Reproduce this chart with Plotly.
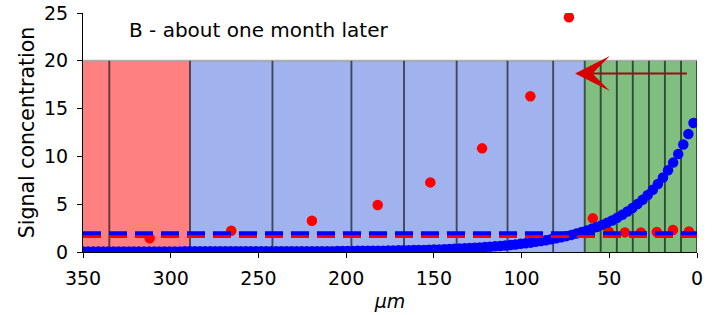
import plotly.graph_objects as go

# ---------------- data ----------------
# blue series: simulated signal profile (x in µm, y concentration)
blue_x = [2.0, 4.9, 7.8, 10.7, 13.6, 16.5, 19.4, 22.3, 25.2, 28.1, 31.0, 33.9, 36.8, 39.7, 42.6,
          45.5, 48.4, 51.3, 54.2, 57.1, 60.0, 62.9, 65.8, 68.7, 71.6, 74.5, 77.4, 80.3, 83.2, 86.1,
          89.0, 91.9, 94.8, 97.7, 100.6, 103.5, 106.4, 109.3, 112.2, 115.1, 118.0, 120.9, 123.8,
          126.7, 129.6, 132.5, 135.4, 138.3, 141.2, 144.1, 147.0, 149.9, 152.8, 155.7, 158.6, 161.5,
          164.4, 167.3, 170.2, 173.1, 176.0, 178.9, 181.8, 184.7, 187.6, 190.5, 193.4, 196.3, 199.2,
          202.1, 205.0, 207.9, 210.8, 213.7, 216.6, 219.5, 222.4, 225.3, 228.2, 231.1, 234.0, 236.9,
          239.8, 242.7, 245.6, 248.5, 251.4, 254.3, 257.2, 260.1, 263.0, 265.9, 268.8, 271.7, 274.6,
          277.5, 280.4, 283.3, 286.2, 289.1, 292.0, 294.9, 297.8, 300.7, 303.6, 306.5, 309.4, 312.3,
          315.2, 318.1, 321.0, 323.9, 326.8, 329.7, 332.6, 335.5, 338.4, 341.3, 344.2, 347.1, 350.0]
blue_y = [13.5, 12.35, 11.25, 10.25, 9.35, 8.55, 7.8, 7.12, 6.52, 5.97, 5.47, 5.02, 4.6, 4.23, 3.89,
          3.58, 3.3, 3.05, 2.82, 2.61, 2.42, 2.24, 2.08, 1.93, 1.79, 1.66, 1.54, 1.43, 1.33, 1.23,
          1.14, 1.06, 0.98, 0.91, 0.85, 0.79, 0.73, 0.68, 0.63, 0.59, 0.55, 0.51, 0.47,
          0.44, 0.41, 0.38, 0.36, 0.33, 0.31, 0.29, 0.27, 0.25, 0.24, 0.22, 0.21, 0.2,
          0.19, 0.18, 0.17, 0.16, 0.15, 0.14, 0.14, 0.13, 0.13, 0.12, 0.12, 0.11, 0.11,
          0.1, 0.1, 0.09, 0.09, 0.09, 0.09, 0.09, 0.09, 0.09, 0.09, 0.09, 0.09, 0.08,
          0.08, 0.08, 0.08, 0.08, 0.08, 0.08, 0.08, 0.08, 0.08, 0.07, 0.07, 0.07, 0.07,
          0.07, 0.07, 0.07, 0.07, 0.07, 0.07, 0.06, 0.06, 0.06, 0.06, 0.06, 0.06, 0.06,
          0.06, 0.06, 0.06, 0.05, 0.05, 0.05, 0.05, 0.05, 0.05, 0.05, 0.05, 0.05, 0.05]

# red series: measured signal per cell
red_x = [312.0, 265.5, 219.5, 182.0, 152.0, 122.5, 95.0, 73.0, 59.4, 50.3, 41.1, 32.0, 22.9, 13.7, 4.6]
red_y = [1.43, 2.23, 3.27, 4.91, 7.28, 10.84, 16.3, 24.55, 3.52, 2.12, 2.05, 2.05, 2.1, 2.3, 2.15]

# threshold levels (dashed)
blue_threshold = 1.95
red_threshold = 1.67

# cell boundaries (µm) and regions
cell_bounds = [350, 335, 289, 242, 197, 167, 137, 108, 82, 64, 54.9, 45.7, 36.6, 27.4, 18.3, 9.1, 0]
region_x0 = [350, 289, 64]
region_x1 = [289, 64, 0]
region_colors = ["rgb(255,128,128)", "rgb(160,179,238)", "rgb(128,191,128)"]
region_top = 20

# arrow (direction of movement)
arrow_tail = (4.9, 18.67)
arrow_tip = (69.5, 18.67)

title_text = "B - about one month later"
x_ticks = [350, 300, 250, 200, 150, 100, 50, 0]
y_ticks = [0, 5, 10, 15, 20, 25]

FONT = "DejaVu Sans"
FS = 19

fig = go.Figure()

# regions
for x0, x1, c in zip(region_x0, region_x1, region_colors):
    fig.add_shape(type="rect", xref="x", yref="y", x0=x0, x1=x1, y0=0, y1=region_top,
                  fillcolor=c, line=dict(width=0), layer="below")
# top edge
fig.add_shape(type="line", xref="x", yref="y", x0=cell_bounds[0], x1=cell_bounds[-1],
              y0=region_top, y1=region_top, line=dict(color="rgba(160,160,160,0.8)", width=2),
              layer="below")
# cell boundaries
for b in cell_bounds[1:]:
    fig.add_shape(type="line", xref="x", yref="y", x0=b, x1=b, y0=0, y1=region_top,
                  line=dict(color="rgba(0,0,0,0.6)", width=1.9), layer="below")

# red measured dots
fig.add_trace(go.Scatter(x=red_x, y=red_y, mode="markers",
                         marker=dict(color="red", size=10.5, line=dict(width=0)),
                         showlegend=False, hoverinfo="skip"))
# blue profile
fig.add_trace(go.Scatter(x=blue_x, y=blue_y, mode="markers",
                         marker=dict(color="blue", size=10.5, line=dict(width=0)),
                         showlegend=False, hoverinfo="skip"))
# dashed thresholds
fig.add_trace(go.Scatter(x=[350, 0], y=[red_threshold, red_threshold], mode="lines",
                         line=dict(color="red", width=4, dash="18px,8px"),
                         showlegend=False, hoverinfo="skip"))
fig.add_trace(go.Scatter(x=[350, 0], y=[blue_threshold, blue_threshold], mode="lines",
                         line=dict(color="blue", width=4, dash="18px,8px"),
                         showlegend=False, hoverinfo="skip"))

# arrow shaft
fig.add_annotation(x=arrow_tip[0] - 6, y=arrow_tip[1], ax=arrow_tail[0], ay=arrow_tail[1],
                   xref="x", yref="y", axref="x", ayref="y", text="", showarrow=True,
                   arrowhead=0, arrowwidth=2, arrowcolor="rgb(140,20,20)")
# arrow head
fig.add_annotation(x=arrow_tip[0], y=arrow_tip[1], ax=arrow_tip[0] - 8, ay=arrow_tip[1],
                   xref="x", yref="y", axref="x", ayref="y", text="", showarrow=True,
                   arrowhead=3, arrowsize=2.9, arrowwidth=2, arrowcolor="rgb(215,0,0)")

# panel title text
fig.add_annotation(x=325, y=23.2, xref="x", yref="y", text=title_text, showarrow=False,
                   xanchor="left", yanchor="middle", font=dict(family=FONT, size=20, color="black"))

fig.update_layout(
    width=712, height=315,
    margin=dict(l=83, r=15, t=13, b=63),
    paper_bgcolor="white", plot_bgcolor="white",
    font=dict(family=FONT, size=FS, color="black"),
)
fig.update_xaxes(range=[350, 0], tickvals=x_ticks, ticks="outside", ticklen=5, tickwidth=1,
                 tickcolor="black", showline=True, linecolor="black", linewidth=1.2,
                 showgrid=False, zeroline=False, ticklabelstandoff=4, automargin=False,
                 title=dict(text="<i>μm</i>", font=dict(family=FONT, size=FS), standoff=6))
fig.update_yaxes(range=[0, 25], tickvals=y_ticks, ticks="outside", ticklen=5, tickwidth=1,
                 tickcolor="black", showline=True, linecolor="black", linewidth=1.2,
                 showgrid=False, zeroline=False, ticklabelstandoff=5, automargin=False,
                 title=dict(text="Signal concentration", font=dict(family=FONT, size=20.5), standoff=3))

fig.write_html("out.html", config={"displayModeBar": False},
               post_script="document.body.style.margin='0';document.body.style.overflow='hidden';")
